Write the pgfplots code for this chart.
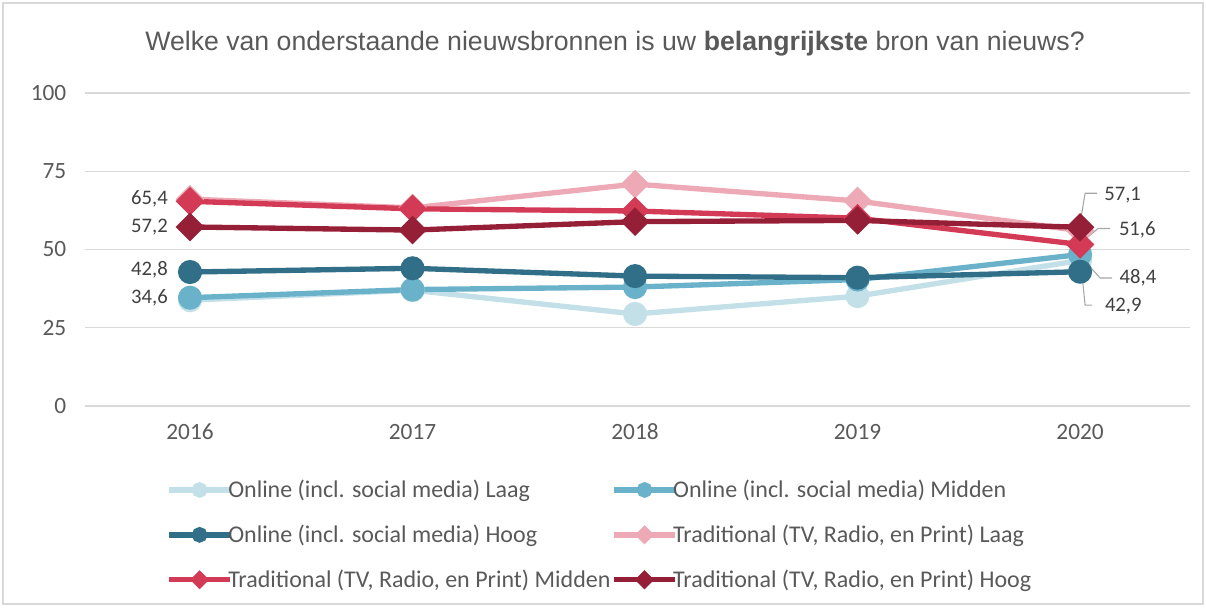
\documentclass[border=0pt]{standalone}
\usepackage{fontspec}
\setmainfont{Carlito}
\newfontfamily\arial{Liberation Sans}
\usepackage{pgfplots}
\pgfplotsset{compat=1.18}

\definecolor{onlaag}{HTML}{C3E0E8}
\definecolor{onmid}{HTML}{6AB2CA}
\definecolor{onhoog}{HTML}{306F87}
\definecolor{trlaag}{HTML}{EDA9B5}
\definecolor{trmid}{HTML}{D33A55}
\definecolor{trhoog}{HTML}{961F38}
\definecolor{gridgray}{HTML}{D9D9D9}
\definecolor{txtgray}{HTML}{595959}
\definecolor{lblgray}{HTML}{404040}
\definecolor{leader}{HTML}{A6A6A6}

\begin{document}
\begin{tikzpicture}
\useasboundingbox (-63.75pt,-150.75pt) rectangle (840.75pt,304.5pt);
\draw[gridgray, line width=0.8pt] (-61.5pt,-148.5pt) rectangle (838.5pt,302.25pt);
\node[font=\arial\fontsize{20}{24}\selectfont, text=txtgray] at (397.5pt,271.5pt)
  {Welke van onderstaande nieuwsbronnen is uw \textbf{belangrijkste} bron van nieuws?};

\begin{axis}[
  scale only axis, width=828.75pt, height=234.75pt,
  xmin=2015.528, xmax=2020.494, ymin=0, ymax=100,
  axis line style={draw=none},
  major tick length=0pt,
  xtick={2016,2017,2018,2019,2020},
  xticklabels={2016,2017,2018,2019,2020},
  ytick={0,25,50,75,100},
  yticklabels={0,25,50,75,100},
  ymajorgrids, grid style={gridgray, line width=1pt},
  tick label style={font=\fontsize{17.5}{21}\selectfont, text=txtgray},
  xticklabel style={yshift=-10pt},
  yticklabel style={xshift=-10.5pt},
  clip=false,
  every axis plot/.append style={line width=4pt},
  legend columns=2,
  legend style={draw=none, fill=none, inner sep=0pt,
    at={(0.0733,-0.234)}, anchor=north west,
    font=\fontsize{18}{21}\selectfont, text=txtgray,
    cells={anchor=west}, row sep=18pt,
    nodes={inner sep=0.5pt}},
  legend image code/.code={
    \draw[mark repeat=2, mark phase=2, #1, every mark/.append style={scale=0.55}]
      plot coordinates {(0pt,0pt) (23pt,0pt) (42pt,0pt)};
    \draw[#1, overlay, mark=none] (41pt,0pt) -- (46pt,0pt);},
]
\addplot[onlaag, mark=*, mark size=7pt] coordinates {
  (2016,33.8) (2017,37.0) (2018,29.4) (2019,35.1) (2020,46.5)};
\addlegendentry{Online (incl. social media) Laag}
\addplot[onmid, mark=*, mark size=7pt] coordinates {
  (2016,34.6) (2017,37.2) (2018,38.0) (2019,40.4) (2020,48.4)};
\addlegendentry{Online (incl. social media) Midden}
\addplot[onhoog, mark=*, mark size=7pt] coordinates {
  (2016,42.8) (2017,44.0) (2018,41.5) (2019,41.0) (2020,42.9)};
\addlegendentry{Online (incl. social media) Hoog}
\addplot[trlaag, mark=square*, mark options={rotate=45}, mark size=5.6pt] coordinates {
  (2016,66.1) (2017,63.3) (2018,70.9) (2019,65.5) (2020,56.0)};
\addlegendentry{Traditional (TV, Radio, en Print) Laag}
\addplot[trmid, mark=square*, mark options={rotate=45}, mark size=5.6pt] coordinates {
  (2016,65.4) (2017,63.0) (2018,62.3) (2019,60.0) (2020,51.6)};
\addlegendentry{Traditional (TV, Radio, en Print) Midden}
\addplot[trhoog, mark=square*, mark options={rotate=45}, mark size=5.6pt] coordinates {
  (2016,57.2) (2017,56.2) (2018,58.9) (2019,59.3) (2020,57.1)};
\addlegendentry{Traditional (TV, Radio, en Print) Hoog}

% data labels
\begin{scope}[every node/.style={font=\fontsize{15.5}{18}\selectfont, text=lblgray, inner sep=0pt}]
\node[anchor=east] at ([xshift=-16.5pt,yshift=1.5pt]axis cs:2016,65.4) {65,4};
\node[anchor=east] at ([xshift=-16.5pt]axis cs:2016,57.2) {57,2};
\node[anchor=east] at ([xshift=-16.5pt,yshift=1.5pt]axis cs:2016,42.8) {42,8};
\node[anchor=east] at ([xshift=-16.5pt]axis cs:2016,34.6) {34,6};

\draw[leader, line width=0.8pt] ([xshift=0pt,yshift=3pt]axis cs:2020,57.1)
  -- ([xshift=3.75pt,yshift=25.5pt]axis cs:2020,57.1) -- ([xshift=12.75pt,yshift=25.5pt]axis cs:2020,57.1);
\node[anchor=west] at ([xshift=18pt,yshift=24pt]axis cs:2020,57.1) {57,1};

\draw[leader, line width=0.8pt] ([xshift=1.5pt,yshift=2pt]axis cs:2020,51.6)
  -- ([xshift=13.5pt,yshift=12pt]axis cs:2020,51.6) -- ([xshift=22.5pt,yshift=12pt]axis cs:2020,51.6);
\node[anchor=west] at ([xshift=29pt,yshift=11pt]axis cs:2020,51.6) {51,6};

\draw[leader, line width=0.8pt] ([xshift=0pt,yshift=-1pt]axis cs:2020,48.4)
  -- ([xshift=15pt,yshift=-17.6pt]axis cs:2020,48.4) -- ([xshift=24pt,yshift=-17.6pt]axis cs:2020,48.4);
\node[anchor=west] at ([xshift=29.5pt,yshift=-17.6pt]axis cs:2020,48.4) {48,4};

\draw[leader, line width=0.8pt] ([xshift=1.5pt,yshift=-2.5pt]axis cs:2020,42.9)
  -- ([xshift=3.75pt,yshift=-25pt]axis cs:2020,42.9) -- ([xshift=9pt,yshift=-25pt]axis cs:2020,42.9);
\node[anchor=west] at ([xshift=18.5pt,yshift=-26pt]axis cs:2020,42.9) {42,9};
\end{scope}
\end{axis}
\end{tikzpicture}
\end{document}
